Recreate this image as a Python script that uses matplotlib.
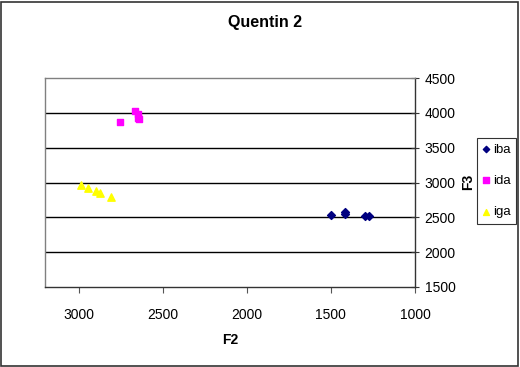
import matplotlib
matplotlib.use("Agg")
import matplotlib.pyplot as plt
from matplotlib.patches import Rectangle

plt.rcParams['font.family'] = ['Liberation Sans', 'DejaVu Sans']

title = "Quentin 2"
x_label = "F2"
y_label = "F3"

iba_f2 = [1500, 1415, 1415, 1300, 1275]
iba_f3 = [2530, 2570, 2545, 2515, 2515]
ida_f2 = [2665, 2645, 2645, 2640, 2755]
ida_f3 = [4025, 3985, 3925, 3915, 3865]
iga_f2 = [2985, 2945, 2895, 2875, 2805]
iga_f3 = [2965, 2925, 2880, 2855, 2790]

x_ticks = [3000, 2500, 2000, 1500, 1000]
y_ticks = [1500, 2000, 2500, 3000, 3500, 4000, 4500]

W, H = 520, 367
fig = plt.figure(figsize=(W / 100, H / 100), dpi=100)
fig.patch.set_facecolor('white')

# outer border
fig.add_artist(Rectangle((1 / W, 1 / H), (W - 3) / W, (H - 3) / H, transform=fig.transFigure,
                         fill=False, edgecolor='#333333', linewidth=1.2))

left, right, top, bottom = 45, 415, 78, 287
ax = fig.add_axes([left / W, 1 - bottom / H, (right - left) / W, (bottom - top) / H])

ax.scatter(iba_f2, iba_f3, marker='D', s=16, color='#000080', label='iba', zorder=3)
ax.scatter(ida_f2, ida_f3, marker='s', s=24, color='#FF00FF', label='ida', zorder=3)
ax.scatter(iga_f2, iga_f3, marker='^', s=28, color='#FFFF00', label='iga', zorder=3)

ax.set_xlim(3200, 1000)
ax.set_ylim(1500, 4500)
ax.set_xticks(x_ticks)
ax.set_yticks(y_ticks)

ax.yaxis.tick_right()
ax.yaxis.set_label_position('right')
for v in y_ticks[1:-1]:
    ax.axhline(v, color='black', linewidth=1.0, zorder=1)

ax.tick_params(axis='x', direction='out', length=4, width=0.8, colors='#555555',
               labelcolor='black', labelsize=10, pad=11)
ax.tick_params(axis='y', direction='inout', length=6, width=0.8, colors='#333333',
               labelcolor='black', labelsize=10, pad=4)

for side in ['top', 'left']:
    ax.spines[side].set_color('#808080')
    ax.spines[side].set_linewidth(1.0)
for side in ['bottom', 'right']:
    ax.spines[side].set_color('#333333')
    ax.spines[side].set_linewidth(1.0)

fig.text(230 / W, 1 - 340 / H, x_label, fontsize=10, fontweight='bold', ha='center', va='center')
fig.text(468 / W, 1 - 182 / H, y_label, rotation=90, fontsize=10, fontweight='bold',
         ha='center', va='center')
fig.text(265 / W, 1 - 23 / H, title, fontsize=11.5, fontweight='bold', ha='center', va='center')

leg = fig.legend(loc='upper left', bbox_to_anchor=(477 / W, 1 - 138 / H), fontsize=9.5,
                 frameon=True, fancybox=False, edgecolor='black', handlelength=0.5,
                 handletextpad=0.3, borderpad=0.4, labelspacing=1.45, borderaxespad=0,
                 markerscale=0.8)
leg.get_frame().set_linewidth(0.8)

fig.savefig('out.png', dpi=100, facecolor='white')
